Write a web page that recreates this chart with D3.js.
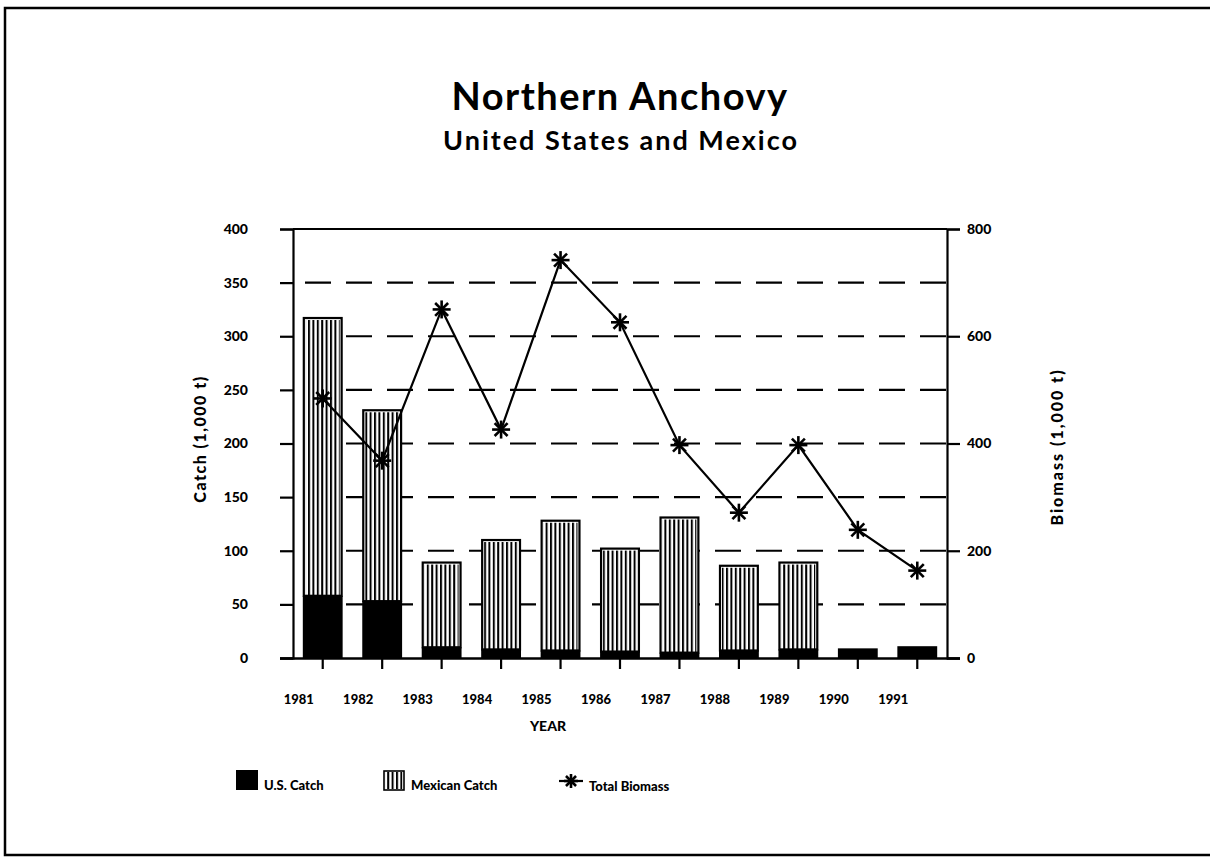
<!DOCTYPE html>
<html>
<head>
<meta charset="utf-8">
<script src="https://cdn.jsdelivr.net/npm/d3@7"></script>
<style>
  body { margin: 0; background: #fff; }
  text { font-family: Lato, "DejaVu Sans", sans-serif; fill: #000; }
</style>
</head>
<body>
<svg id="chart" width="1210" height="858"></svg>
<script>
// data
const years = ["1981", "1982", "1983", "1984", "1985", "1986", "1987", "1988", "1989", "1990", "1991"];
const usCatch = [58, 53, 10, 8, 7, 6, 5, 7, 8, 9, 11];
const mexicanCatch = [259, 178, 79, 102, 121, 96, 126, 79, 81, 0, 0];
const totalBiomass = [484, 368, 650, 426, 742, 626, 397, 271, 397, 239, 163];
const catchTicks = [0, 50, 100, 150, 200, 250, 300, 350, 400];
const biomassTicks = [0, 200, 400, 600, 800];

const svg = d3.select("#chart");

const plotLeft = 293, plotRight = 947, plotTop = 229, plotBottom = 658;

const x = d3.scaleBand().domain(years).range([plotLeft, plotRight])
  .paddingInner(0.33).paddingOuter(0.165);
const yL = d3.scaleLinear().domain([0, 400]).range([plotBottom, plotTop]);
const yR = d3.scaleLinear().domain([0, 800]).range([plotBottom, plotTop]);

// vertical line pattern for mexican catch
const defs = svg.append("defs");
defs.append("pattern")
  .attr("id", "vlines")
  .attr("patternUnits", "userSpaceOnUse")
  .attr("width", 4.4).attr("height", 10)
  .append("rect")
  .attr("x", 0).attr("y", 0).attr("width", 2).attr("height", 10)
  .attr("fill", "#000");

// outer frame
svg.append("rect")
  .attr("x", 5).attr("y", 8).attr("width", 1220).attr("height", 847)
  .attr("fill", "none").attr("stroke", "#000").attr("stroke-width", 2.5);

// titles
svg.append("text").attr("x", 620).attr("y", 110).attr("text-anchor", "middle")
  .style("font-size", "38px").style("font-weight", 700).style("letter-spacing", "1.5px")
  .text("Northern Anchovy");
svg.append("text").attr("x", 621).attr("y", 150).attr("text-anchor", "middle")
  .style("font-size", "27px").style("font-weight", 700).style("letter-spacing", "2px")
  .text("United States and Mexico");

// gridlines (dashed), top one solid
svg.append("g").selectAll("line")
  .data(catchTicks.filter(d => d > 0))
  .join("line")
  .attr("x1", plotLeft).attr("x2", plotRight)
  .attr("y1", d => yL(d)).attr("y2", d => yL(d))
  .attr("stroke", "#000").attr("stroke-width", 2.2)
  .attr("stroke-dasharray", d => d === 400 ? null : "26,15")
  .attr("stroke-dashoffset", -12);

// left axis
const axL = svg.append("g").attr("transform", `translate(${plotLeft},0)`)
  .call(d3.axisLeft(yL).tickValues(catchTicks).tickSize(13).tickPadding(32));
// right axis
const axR = svg.append("g").attr("transform", `translate(${plotRight},0)`)
  .call(d3.axisRight(yR).tickValues(biomassTicks).tickSize(13).tickPadding(7));
[axL, axR].forEach(ax => {
  ax.select(".domain").attr("stroke-width", 2.2);
  ax.selectAll(".tick line").attr("stroke-width", 2.2);
  ax.selectAll("text").style("font-size", "14px").style("font-weight", 900)
    .style("font-family", "Lato, sans-serif");
});

// bars
const g = svg.append("g");
g.selectAll(".us").data(years).join("rect")
  .attr("x", d => x(d)).attr("width", x.bandwidth())
  .attr("y", (d, i) => yL(usCatch[i]))
  .attr("height", (d, i) => yL(0) - yL(usCatch[i]))
  .attr("fill", "#000");
const mxYears = years.filter((d, i) => mexicanCatch[i] > 0);
const mxTop = d => { const i = years.indexOf(d); return yL(usCatch[i] + mexicanCatch[i]); };
const mxBase = d => yL(usCatch[years.indexOf(d)]);
g.selectAll(".mx").data(mxYears).join("rect")
  .attr("x", d => x(d) + 1).attr("width", x.bandwidth() - 2)
  .attr("y", mxTop)
  .attr("height", d => mxBase(d) - mxTop(d))
  .attr("fill", "#fff").attr("stroke", "#000").attr("stroke-width", 2.2);
g.selectAll(".mxp").data(mxYears).join("rect")
  .attr("x", d => x(d) + 3).attr("width", x.bandwidth() - 6)
  .attr("y", d => mxTop(d) + 2)
  .attr("height", d => mxBase(d) - mxTop(d) - 2)
  .attr("fill", "url(#vlines)");

// bottom axis
const axB = svg.append("g").attr("transform", `translate(0,${plotBottom})`)
  .call(d3.axisBottom(x).tickSize(11).tickPadding(26).tickSizeOuter(0));
axB.select(".domain").attr("d", `M${plotLeft - 13},0.5H${plotRight + 13}`).attr("stroke-width", 2.4);
axB.selectAll(".tick line").attr("stroke-width", 2.2);
axB.selectAll("text").attr("dx", -24).style("font-size", "13px").style("font-weight", 900)
  .style("font-family", "Lato, sans-serif");

// biomass line
const line = d3.line().x((d, i) => x(years[i]) + x.bandwidth() / 2).y(d => yR(d));
svg.append("path").datum(totalBiomass).attr("d", line)
  .attr("fill", "none").attr("stroke", "#000").attr("stroke-width", 2.2);

function star(sel, r) {
  const arms = [[r, 0], [0, r], [r * 0.72, r * 0.72], [r * 0.72, -r * 0.72]];
  arms.forEach(a => sel.append("line")
    .attr("x1", -a[0]).attr("y1", -a[1]).attr("x2", a[0]).attr("y2", a[1])
    .attr("stroke", "#000").attr("stroke-width", 2.6));
}
svg.append("g").selectAll("g").data(totalBiomass).join("g")
  .attr("transform", (d, i) => `translate(${x(years[i]) + x.bandwidth() / 2},${yR(d)})`)
  .each(function () { star(d3.select(this), 9); });

// axis titles
svg.append("text").attr("transform", "translate(206,439) rotate(-90)")
  .attr("text-anchor", "middle").style("font-size", "16px").style("font-weight", 900)
  .style("letter-spacing", "1.5px").text("Catch (1,000 t)");
svg.append("text").attr("transform", "translate(1063,447) rotate(-90)")
  .attr("text-anchor", "middle").style("font-size", "16px").style("font-weight", 900)
  .style("letter-spacing", "2px").text("Biomass (1,000 t)");
svg.append("text").attr("x", 548).attr("y", 731).attr("text-anchor", "middle")
  .style("font-size", "14px").style("font-weight", 900).text("YEAR");

// legend
const leg = svg.append("g");
leg.append("rect").attr("x", 236).attr("y", 770).attr("width", 22).attr("height", 20).attr("fill", "#000");
leg.append("text").attr("x", 264).attr("y", 790).style("font-size", "13px").style("font-weight", 900).text("U.S. Catch");
leg.append("rect").attr("x", 384).attr("y", 771).attr("width", 20).attr("height", 19)
  .attr("fill", "#fff").attr("stroke", "#000").attr("stroke-width", 1.6);
leg.append("rect").attr("x", 385.5).attr("y", 772).attr("width", 17).attr("height", 17).attr("fill", "url(#vlines)");
leg.append("text").attr("x", 411).attr("y", 790).style("font-size", "13px").style("font-weight", 900).text("Mexican Catch");
leg.append("line").attr("x1", 559).attr("x2", 583).attr("y1", 781).attr("y2", 781)
  .attr("stroke", "#000").attr("stroke-width", 2.2);
star(leg.append("g").attr("transform", "translate(571,781)"), 7);
leg.append("text").attr("x", 589).attr("y", 791).style("font-size", "13px").style("font-weight", 900).text("Total Biomass");
</script>
</body>
</html>
